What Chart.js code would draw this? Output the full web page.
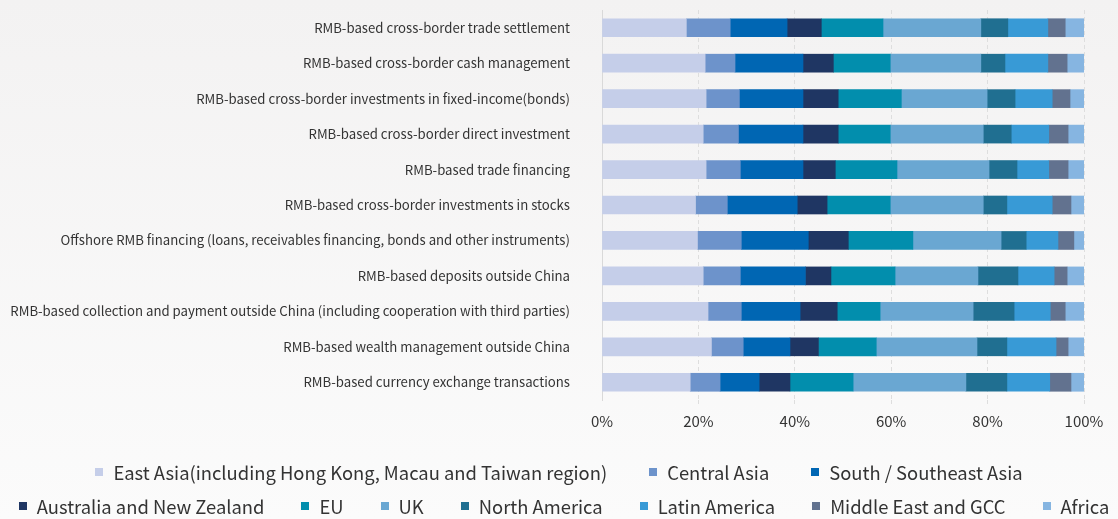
<!DOCTYPE html>
<html>
<head>
<meta charset="utf-8">
<script src="https://cdn.jsdelivr.net/npm/chart.js@4/dist/chart.umd.min.js"></script>
<style>
  html, body { margin: 0; padding: 0; }
  body {
    width: 1118px; height: 519px; overflow: hidden;
    background: linear-gradient(to bottom, #f3f2f2, #fbfbfb);
    font-family: "Noto Sans CJK SC", "Noto Sans", sans-serif;
  }
  #wrap { position: relative; width: 1118px; height: 519px; }
  canvas { display: block; }
  #legend { position: absolute; left: 0; top: 455px; width: 1118px; color: #333; font-size: 18.4px; }
  .row { display: flex; justify-content: center; height: 34px; align-items: center; white-space: nowrap; gap: 42px; }
  .row + .row { gap: 37px; padding-left: 10px; }
  .item { display: flex; align-items: center; }
  .box { width: 8px; height: 8px; margin-right: 10px; }
</style>
</head>
<body>
<div id="wrap">
  <canvas id="chart" width="1118" height="519"></canvas>
  <div id="legend"></div>
</div>
<script>
// Categories (top to bottom)
const categories = [
  'RMB-based cross-border trade settlement',
  'RMB-based cross-border cash management',
  'RMB-based cross-border investments in fixed-income(bonds)',
  'RMB-based cross-border direct investment',
  'RMB-based trade financing',
  'RMB-based cross-border investments in stocks',
  'Offshore RMB financing (loans, receivables financing, bonds and other instruments)',
  'RMB-based deposits outside China',
  'RMB-based collection and payment outside China (including cooperation with third parties)',
  'RMB-based wealth management outside China',
  'RMB-based currency exchange transactions'
];

// Share of each region (%)
const eastAsia     = [17.5, 21.4, 21.6, 21.0, 21.6, 19.4, 19.8, 21.0, 22.0, 22.7, 18.3];
const centralAsia  = [9.1, 6.2, 6.9, 7.3, 7.1, 6.6, 9.1, 7.7, 6.9, 6.6, 6.2];
const southAsia    = [11.8, 14.1, 13.2, 13.4, 13.0, 14.5, 13.9, 13.5, 12.2, 9.7, 8.1];
const ausNz        = [7.1, 6.3, 7.3, 7.3, 6.7, 6.2, 8.3, 5.3, 7.7, 5.9, 6.4];
const eu           = [12.8, 11.8, 13.1, 10.8, 12.8, 13.1, 13.4, 13.3, 8.9, 12.0, 13.1];
const uk           = [20.3, 18.8, 17.8, 19.3, 19.1, 19.3, 18.3, 17.2, 19.3, 20.9, 23.4];
const northAmerica = [5.6, 5.0, 5.8, 5.8, 5.8, 4.9, 5.2, 8.3, 8.5, 6.2, 8.5];
const latinAmerica = [8.3, 8.9, 7.7, 7.8, 6.6, 9.4, 6.6, 7.5, 7.5, 10.2, 8.9];
const middleEast   = [3.6, 4.0, 3.7, 4.0, 4.0, 3.9, 3.3, 2.7, 3.1, 2.5, 4.4];
const africa       = [3.9, 3.5, 2.9, 3.3, 3.3, 2.7, 2.1, 3.5, 3.9, 3.3, 2.7];

const xTicks = [0, 20, 40, 60, 80, 100];

const series = [
  ['East Asia(including Hong Kong, Macau and Taiwan region)', eastAsia, '#c5cee9'],
  ['Central Asia', centralAsia, '#6d93cb'],
  ['South / Southeast Asia', southAsia, '#0066b3'],
  ['Australia and New Zealand', ausNz, '#1f3663'],
  ['EU', eu, '#028ead'],
  ['UK', uk, '#6aa7d2'],
  ['North America', northAmerica, '#206f91'],
  ['Latin America', latinAmerica, '#389ad6'],
  ['Middle East and GCC', middleEast, '#62728f'],
  ['Africa', africa, '#86b5e1']
];

const font = '"Noto Sans CJK SC", "Noto Sans", sans-serif';

new Chart(document.getElementById('chart'), {
  type: 'bar',
  data: {
    labels: categories,
    datasets: series.map(([label, data, color]) => ({
      label,
      data,
      backgroundColor: color,
      borderWidth: 0,
      barThickness: 18
    }))
  },
  options: {
    indexAxis: 'y',
    responsive: false,
    animation: false,
    layout: { padding: { top: 10, right: 34, left: 0, bottom: 0 } },
    plugins: {
      legend: { display: false },
      tooltip: { enabled: false }
    },
    scales: {
      x: {
        stacked: true,
        min: 0,
        max: 100,
        afterBuildTicks: scale => { scale.ticks = xTicks.map(v => ({ value: v })); },
        afterFit: scale => { scale.height = 119; },
        grid: {
          color: ctx => ctx.index === 0 ? 'rgba(0,0,0,0)' : '#dedede',
          tickLength: 4,
          lineWidth: 1
        },
        border: { display: false, dash: [4, 3] },
        ticks: {
          color: '#333',
          padding: 8,
          font: { family: font, size: 15 },
          callback: v => v + '%'
        }
      },
      y: {
        stacked: true,
        afterFit: scale => {
          // keep the axis at x=602 and stop tick padding leaking into top/bottom
          scale.width = 602;
          scale.paddingTop = 0;
          scale.paddingBottom = 0;
        },
        grid: { display: false, drawTicks: false },
        border: { display: true, color: '#d9d9d9' },
        ticks: {
          color: '#333',
          padding: 32,
          autoSkip: false,
          font: { family: font, size: 13.2 }
        }
      }
    }
  }
});

// HTML legend, two rows like the reference
const legend = document.getElementById('legend');
[[0, 3], [3, 10]].forEach(([a, b]) => {
  const row = document.createElement('div');
  row.className = 'row';
  series.slice(a, b).forEach(([label, , color]) => {
    const item = document.createElement('div');
    item.className = 'item';
    item.innerHTML = '<span class="box" style="background:' + color + '"></span><span>' + label + '</span>';
    row.appendChild(item);
  });
  legend.appendChild(row);
});
</script>
</body>
</html>
